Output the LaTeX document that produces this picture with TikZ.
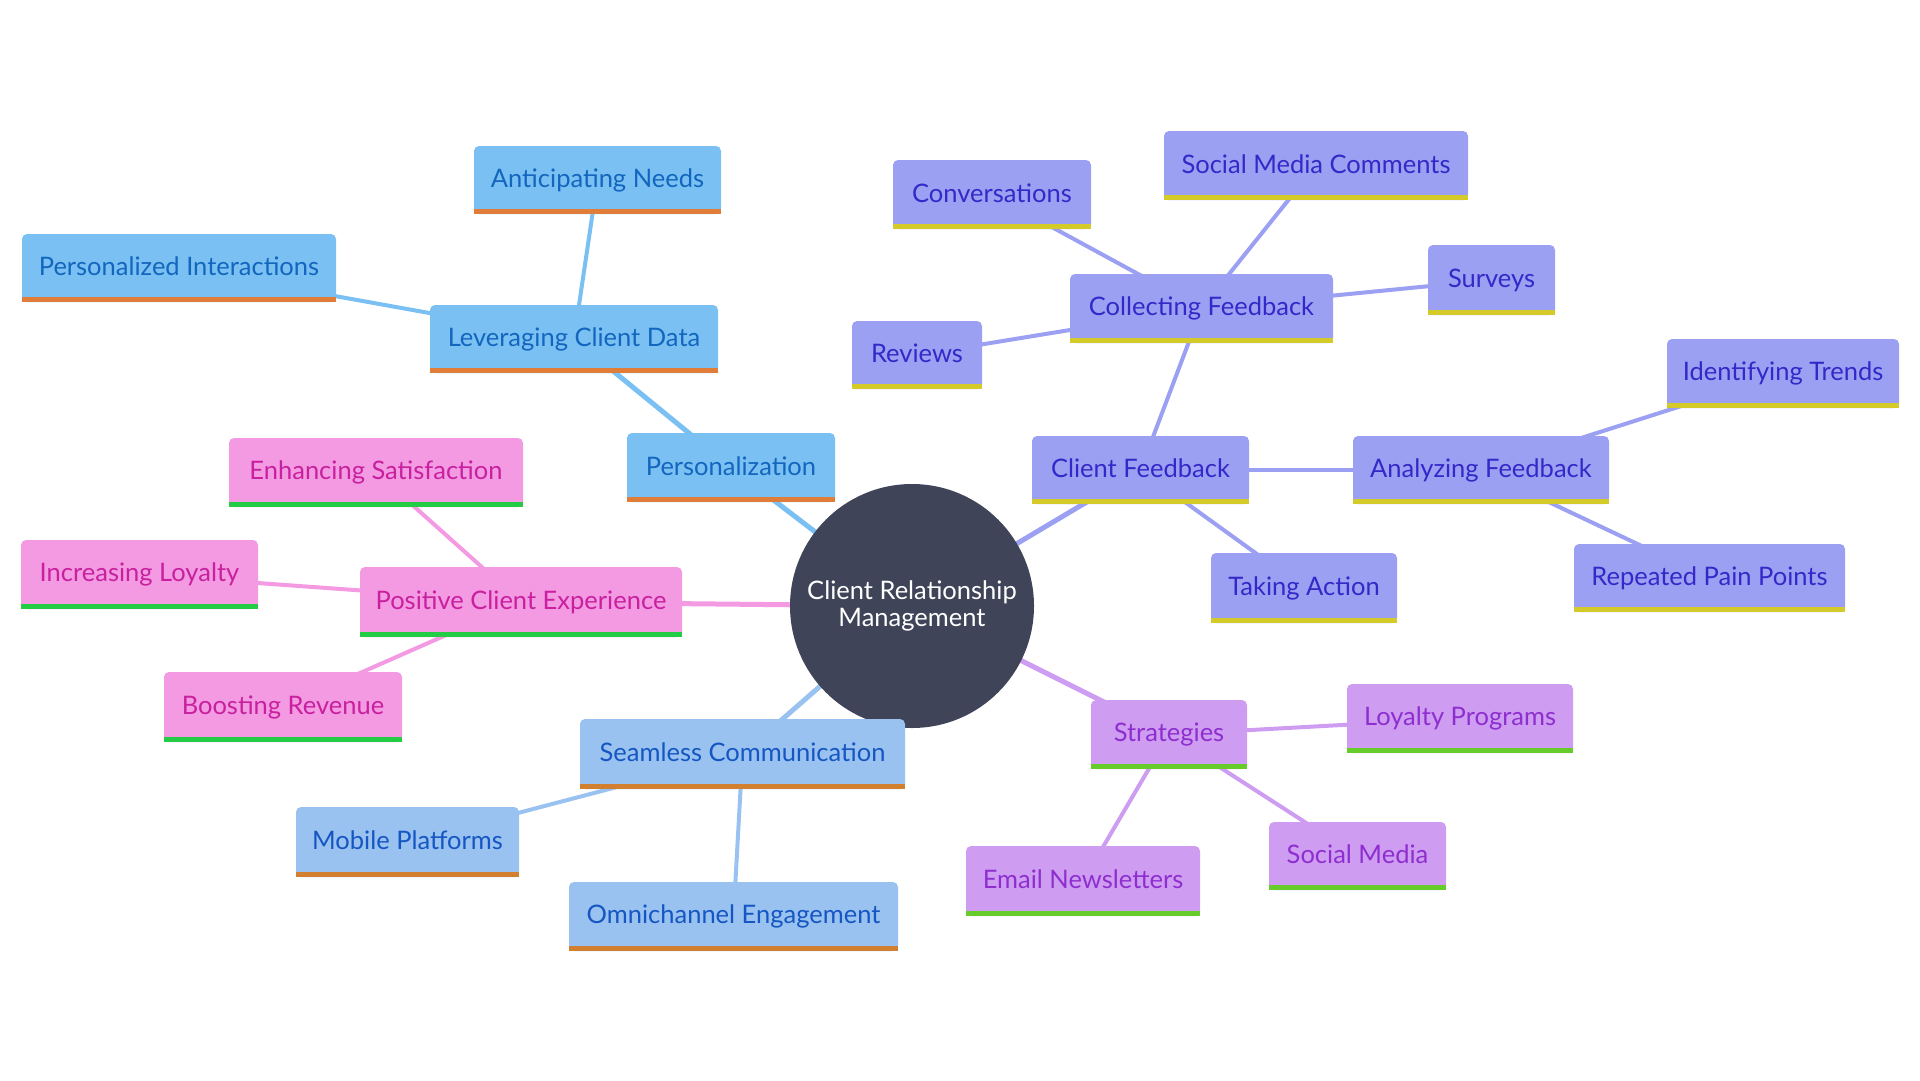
\documentclass[tikz,border=0pt]{standalone}
\usepackage{fontspec}
\setmainfont{Lato}
\usetikzlibrary{backgrounds}
\definecolor{persfill}{HTML}{7BC0F3}
\definecolor{perstext}{HTML}{1266BE}
\definecolor{persbar}{HTML}{E07D39}
\definecolor{seamfill}{HTML}{99C2F0}
\definecolor{seamtext}{HTML}{1556C2}
\definecolor{seambar}{HTML}{D28030}
\definecolor{pinkfill}{HTML}{F39AE3}
\definecolor{pinktext}{HTML}{C8209E}
\definecolor{pinkbar}{HTML}{22CC44}
\definecolor{fbfill}{HTML}{9BA0F2}
\definecolor{fbtext}{HTML}{3528C8}
\definecolor{fbbar}{HTML}{D4CB2A}
\definecolor{stfill}{HTML}{CE9DF2}
\definecolor{sttext}{HTML}{8E2ECF}
\definecolor{stbar}{HTML}{66CC2A}
\definecolor{centerfill}{HTML}{404459}
\tikzset{
  mmbox/.style={rounded corners=5pt, inner sep=0pt, font=\fontsize{25.5}{30}\selectfont},
  persbox/.style={mmbox, fill=persfill, text=perstext},
  seambox/.style={mmbox, fill=seamfill, text=seamtext},
  pinkbox/.style={mmbox, fill=pinkfill, text=pinktext},
  fbbox/.style={mmbox, fill=fbfill, text=fbtext},
  stbox/.style={mmbox, fill=stfill, text=sttext},
  mmedge/.style={line width=5pt},
  mmedgethin/.style={line width=4pt},
}
\newcommand\mmnode[8]{%
  \node[#1, minimum width={(#6-#4)*1pt}, minimum height={(#7-#5)*1pt}] (#2) at ({(#4+#6)/2},{(#5+#7)/2}) {\raisebox{3pt}{#8}};
  \fill[#3] ([yshift=5pt]#2.south west) rectangle (#2.south east);
}
\begin{document}
\begin{tikzpicture}[x=1pt,y=-1pt]
\useasboundingbox (0,0) rectangle (1920,1080);
% center
\node[circle, fill=centerfill, text=white, minimum size=244pt, inner sep=0pt, align=center, font=\fontsize{25.5}{27}\selectfont] (center) at (912,606) {Client Relationship\\Management};
% personalization branch
\mmnode{persbox}{personal}{persbar}{627}{433}{835}{502}{Personalization}
\mmnode{persbox}{levdata}{persbar}{430}{305}{718}{373}{Leveraging Client Data}
\mmnode{persbox}{antneeds}{persbar}{474}{146}{721}{214}{Anticipating Needs}
\mmnode{persbox}{persint}{persbar}{22}{234}{336}{302}{Personalized Interactions}
% positive client experience
\mmnode{pinkbox}{pce}{pinkbar}{360}{567}{682}{637}{Positive Client Experience}
\mmnode{pinkbox}{enhsat}{pinkbar}{229}{438}{523}{507}{Enhancing Satisfaction}
\mmnode{pinkbox}{incloy}{pinkbar}{21}{540}{258}{609}{Increasing Loyalty}
\mmnode{pinkbox}{boostrev}{pinkbar}{164}{672}{402}{742}{Boosting Revenue}
% seamless communication
\mmnode{seambox}{seamless}{seambar}{580}{719}{905}{789}{Seamless Communication}
\mmnode{seambox}{mobile}{seambar}{296}{807}{519}{877}{Mobile Platforms}
\mmnode{seambox}{omni}{seambar}{569}{882}{898}{951}{Omnichannel Engagement}
% client feedback
\mmnode{fbbox}{clientfb}{fbbar}{1032}{436}{1249}{504}{Client Feedback}
\mmnode{fbbox}{collfb}{fbbar}{1070}{274}{1333}{343}{Collecting Feedback}
\mmnode{fbbox}{conv}{fbbar}{893}{160}{1091}{229}{Conversations}
\mmnode{fbbox}{smc}{fbbar}{1164}{131}{1468}{200}{Social Media Comments}
\mmnode{fbbox}{surveys}{fbbar}{1428}{245}{1555}{315}{Surveys}
\mmnode{fbbox}{reviews}{fbbar}{852}{321}{982}{389}{Reviews}
\mmnode{fbbox}{analyzing}{fbbar}{1353}{436}{1609}{504}{Analyzing Feedback}
\mmnode{fbbox}{idtrends}{fbbar}{1667}{339}{1899}{408}{Identifying Trends}
\mmnode{fbbox}{painpts}{fbbar}{1574}{544}{1845}{612}{Repeated Pain Points}
\mmnode{fbbox}{taking}{fbbar}{1211}{553}{1397}{623}{Taking Action}
% strategies
\mmnode{stbox}{strategies}{stbar}{1091}{700}{1247}{769}{Strategies}
\mmnode{stbox}{loyprog}{stbar}{1347}{684}{1573}{753}{Loyalty Programs}
\mmnode{stbox}{socmedia}{stbar}{1269}{822}{1446}{890}{Social Media}
\mmnode{stbox}{email}{stbar}{966}{846}{1200}{916}{Email Newsletters}
\begin{scope}[on background layer]
  \draw[mmedge, persfill] (center.center) -- (personal.center);
  \draw[mmedge, persfill] (personal.center) -- (levdata.center);
  \draw[mmedgethin, persfill] (levdata.center) -- (antneeds.center);
  \draw[mmedgethin, persfill] (levdata.center) -- (persint.center);
  \draw[mmedge, pinkfill] (center.center) -- (pce.center);
  \draw[mmedgethin, pinkfill] (pce.center) -- (enhsat.center);
  \draw[mmedgethin, pinkfill] (pce.center) -- (incloy.center);
  \draw[mmedgethin, pinkfill] (pce.center) -- (boostrev.center);
  \draw[mmedge, seamfill] (center.center) -- (seamless.center);
  \draw[mmedgethin, seamfill] (seamless.center) -- (mobile.center);
  \draw[mmedgethin, seamfill] (seamless.center) -- (omni.center);
  \draw[mmedge, fbfill] (center.center) -- (clientfb.center);
  \draw[mmedgethin, fbfill] (clientfb.center) -- (collfb.center);
  \draw[mmedgethin, fbfill] (collfb.center) -- (conv.center);
  \draw[mmedgethin, fbfill] (collfb.center) -- (smc.center);
  \draw[mmedgethin, fbfill] (collfb.center) -- (surveys.center);
  \draw[mmedgethin, fbfill] (collfb.center) -- (reviews.center);
  \draw[mmedgethin, fbfill] (clientfb.center) -- (analyzing.center);
  \draw[mmedgethin, fbfill] (analyzing.center) -- (idtrends.center);
  \draw[mmedgethin, fbfill] (analyzing.center) -- (painpts.center);
  \draw[mmedgethin, fbfill] (clientfb.center) -- (taking.center);
  \draw[mmedge, stfill] (center.center) -- (strategies.center);
  \draw[mmedgethin, stfill] (strategies.center) -- (loyprog.center);
  \draw[mmedgethin, stfill] (strategies.center) -- (socmedia.center);
  \draw[mmedgethin, stfill] (strategies.center) -- (email.center);
\end{scope}
\end{tikzpicture}
\end{document}
